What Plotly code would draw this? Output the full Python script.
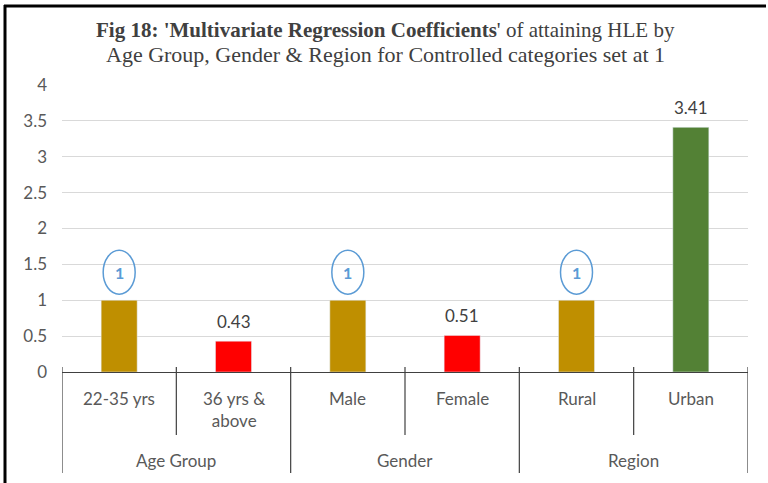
import plotly.graph_objects as go

categories = ["22-35 yrs", "36 yrs &<br>above", "Male", "Female", "Rural", "Urban"]
values = [1, 0.43, 1, 0.51, 1, 3.41]
colors = ["#BF8F00", "#FF0000", "#BF8F00", "#FF0000", "#BF8F00", "#538135"]
groups = ["Age Group", "Gender", "Region"]
controlled = [True, False, True, False, True, False]
y_ticks = [0, 0.5, 1, 1.5, 2, 2.5, 3, 3.5, 4]
title_lines = ["<b>Fig 18: 'Multivariate Regression Coefficients</b>' of attaining HLE by",
               "Age Group, Gender &amp; Region for Controlled categories set at 1"]

# layout geometry (pixels)
W, H = 768, 483
L, R, T, B = 62, 20, 85, 111
plot_h = H - T - B
plot_w = W - L - R

def py(pix):
    return (H - B - pix) / plot_h

def px(pix):
    return (pix - L) / plot_w

x = list(range(len(categories)))
fig = go.Figure(go.Bar(x=x, y=values, marker_color=colors, width=0.315, showlegend=False,
                       hoverinfo="skip"))

axis_font = dict(family="Lato, Open Sans, sans-serif", size=17, color="#595959")
anns = []
shapes = []
for i, (v, c) in enumerate(zip(values, controlled)):
    if c:
        anns.append(dict(x=i, y=v, xref="x", yref="y", text="<b>1</b>", showarrow=False,
                         yanchor="middle", yshift=28,
                         font=dict(family="Lato, sans-serif", size=16, color="#5B9BD5")))
        shapes.append(dict(type="circle", xref="x", yref="y", xsizemode="pixel", ysizemode="pixel",
                           xanchor=i, yanchor=v, x0=-16, x1=16, y0=6, y1=50,
                           line=dict(color="#5B9BD5", width=1.5)))
    else:
        anns.append(dict(x=i, y=v, xref="x", yref="y", text=f"{v:g}", showarrow=False,
                         yanchor="bottom", yshift=7,
                         font=dict(family="Lato, sans-serif", size=17, color="#404040")))
    # category labels
    anns.append(dict(x=i, y=py(386), xref="x", yref="paper", text=categories[i], showarrow=False,
                     yanchor="top", font=axis_font))

for g, name in enumerate(groups):
    anns.append(dict(x=2 * g + 0.5, y=py(461), xref="x", yref="paper", text=name, showarrow=False,
                     yanchor="middle", font=axis_font))

# title lines
for line, ypix, size in zip(title_lines, [30, 54], [21, 22]):
    anns.append(dict(x=px(385), y=py(ypix), xref="paper", yref="paper", text=line, showarrow=False,
                     xanchor="center", yanchor="middle",
                     font=dict(family="Liberation Serif, Times New Roman, serif", size=size,
                               color="#404040")))

# separators
for k in range(len(categories) + 1):
    xb = k - 0.5
    bottom = 473 if k % 2 == 0 else 435
    shapes.append(dict(type="line", xref="x", yref="paper", x0=xb, x1=xb, y0=py(367), y1=py(bottom),
                       line=dict(color="#404040", width=1.2)))

# outer frame (left and top)
shapes.append(dict(type="line", xref="paper", yref="paper", x0=px(5), x1=px(5), y0=py(5), y1=py(H + 2),
                   line=dict(color="black", width=3)))
shapes.append(dict(type="line", xref="paper", yref="paper", x0=px(4), x1=px(766), y0=py(6), y1=py(6),
                   line=dict(color="black", width=3)))

fig.update_layout(
    width=W, height=H,
    margin=dict(l=L, r=R, t=T, b=B),
    paper_bgcolor="white", plot_bgcolor="white",
    xaxis=dict(range=[-0.5, len(categories) - 0.5], showticklabels=False, showgrid=False,
               zeroline=False, showline=True, linecolor="#404040", linewidth=1.2, fixedrange=True),
    yaxis=dict(range=[0, 4], tickvals=y_ticks, ticktext=[f"{t:g}" for t in y_ticks],
               showgrid=True, gridcolor="#D9D9D9", gridwidth=1, zeroline=False, showline=False,
               tickfont=axis_font, ticklabelstandoff=14, fixedrange=True),
    annotations=anns, shapes=shapes,
)

fig.write_html("out.html", config={"displayModeBar": False},
               post_script="document.body.style.margin='0px';document.body.style.overflow='hidden';")
